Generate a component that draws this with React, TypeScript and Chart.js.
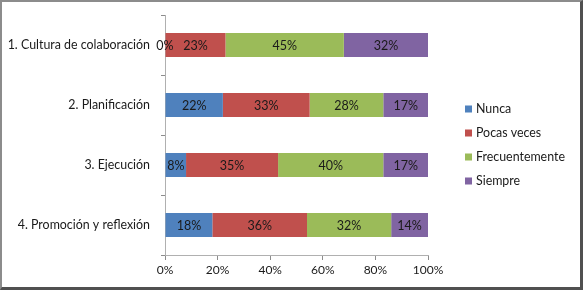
import React, { useEffect, useRef } from "react";
import { Chart, registerables } from "chart.js";

Chart.register(...registerables);

const categories = [
  "1. Cultura de colaboración",
  "2. Planificación",
  "3. Ejecución",
  "4. Promoción y reflexión",
];
const seriesNames = ["Nunca", "Pocas veces", "Frecuentemente", "Siempre"];
const nunca = [0, 22, 8, 18];
const pocasVeces = [23, 33, 35, 36];
const frecuentemente = [45, 28, 40, 32];
const siempre = [32, 17, 17, 14];
const seriesColors = ["#4F81BD", "#C0504D", "#9BBB59", "#8064A2"];
const xTicks = [0, 20, 40, 60, 80, 100];

const FONT = "Lato, 'Open Sans', sans-serif";

const dataLabelPlugin = {
  id: "dataLabels",
  afterDatasetsDraw(chart: any) {
    const ctx = chart.ctx;
    ctx.save();
    ctx.font = `12.5px ${FONT}`;
    ctx.fillStyle = "#1a1a1a";
    ctx.textAlign = "center";
    ctx.textBaseline = "middle";
    chart.data.datasets.forEach((ds: any, di: number) => {
      const meta = chart.getDatasetMeta(di);
      meta.data.forEach((bar: any, i: number) => {
        const v = ds.data[i];
        const { x, base, y } = bar.getProps(["x", "base", "y"], true);
        ctx.fillText(`${v}%`, (x + base) / 2, y + 1);
      });
    });
    ctx.restore();
  },
};

const legendPlugin = {
  id: "customLegend",
  afterDraw(chart: any) {
    const ctx = chart.ctx;
    ctx.save();
    ctx.font = `12.4px ${FONT}`;
    ctx.textAlign = "left";
    ctx.textBaseline = "middle";
    chart.data.datasets.forEach((ds: any, i: number) => {
      const y = 107 + i * 24;
      ctx.fillStyle = ds.backgroundColor;
      ctx.fillRect(463, y - 3.5, 7, 7);
      ctx.fillStyle = "#1a1a1a";
      ctx.fillText(ds.label, 474, y);
    });
    ctx.restore();
  },
};

export default function App() {
  const ref = useRef<HTMLCanvasElement>(null);
  useEffect(() => {
    const values = [nunca, pocasVeces, frecuentemente, siempre];
    const chart = new Chart(ref.current!, {
      type: "bar",
      data: {
        labels: categories,
        datasets: seriesNames.map((name, i) => ({
          label: name,
          data: values[i],
          backgroundColor: seriesColors[i],
          borderWidth: 0,
          barPercentage: 0.5,
          categoryPercentage: 0.8,
        })),
      },
      options: {
        indexAxis: "y",
        animation: false,
        responsive: false,
        maintainAspectRatio: false,
        layout: { padding: { left: 0, right: 578 - 426, top: 13, bottom: 0 } },
        plugins: {
          legend: { display: false },
          tooltip: { enabled: false },
        },
        scales: {
          x: {
            stacked: true,
            min: 0,
            max: 100,
            afterBuildTicks: (scale: any) => {
              scale.ticks = xTicks.map((v) => ({ value: v }));
            },
            afterFit: (scale: any) => {
              scale.height = 285 - 253;
            },
            grid: {
              drawOnChartArea: false,
              drawTicks: true,
              tickLength: 5,
              color: "#8c8c8c",
            },
            border: { color: "#b0b0b0" },
            ticks: {
              callback: (v: any) => `${v}%`,
              color: "#1a1a1a",
              font: { family: FONT, size: 12 },
              padding: 3,
              maxRotation: 0,
            },
          },
          y: {
            stacked: true,
            afterFit: (scale: any) => {
              scale.width = 163;
              scale.paddingTop = 0;
              scale.paddingBottom = 0;
            },
            grid: {
              drawOnChartArea: false,
              drawTicks: true,
              tickLength: 4,
              offset: true,
              color: "#8c8c8c",
            },
            border: { color: "#b0b0b0" },
            ticks: {
              color: "#1a1a1a",
              font: { family: FONT, size: 12.4 },
              padding: 11,
            },
          },
        },
      },
      plugins: [dataLabelPlugin, legendPlugin],
    } as any);
    return () => chart.destroy();
  }, []);
  return (
    <div
      style={{
        position: "absolute",
        left: 0,
        top: 0,
        width: 583,
        height: 290,
        boxSizing: "border-box",
        borderLeft: "2px solid #8c8c8c",
        borderTop: "2px solid #8c8c8c",
        borderRight: "3px solid #505050",
        borderBottom: "3px solid #505050",
        background: "#fff",
      }}
    >
      <canvas ref={ref} width={578} height={285} style={{ display: "block" }} />
    </div>
  );
}
